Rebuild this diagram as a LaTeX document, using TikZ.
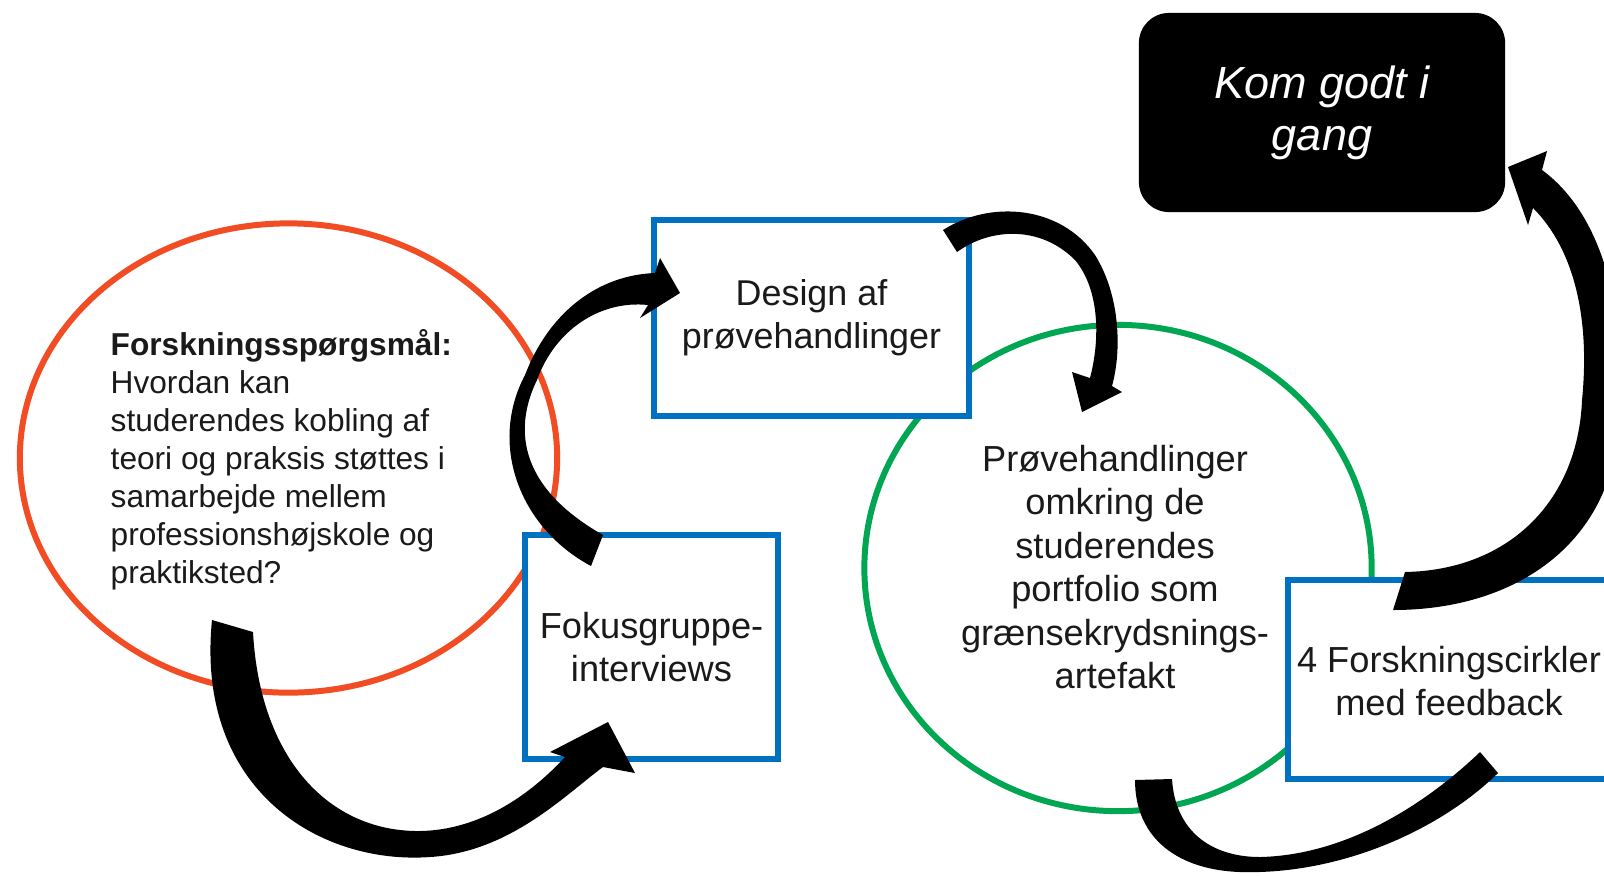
\documentclass[tikz,border=0pt]{standalone}
\usepackage{fontspec}
\setmainfont{Liberation Sans}
\usetikzlibrary{shapes.geometric}
\definecolor{boxblue}{RGB}{0,112,192}
\definecolor{ringred}{RGB}{242,76,36}
\definecolor{ringgreen}{RGB}{0,166,81}
\definecolor{textc}{RGB}{26,26,26}
\begin{document}
\begin{tikzpicture}[x=0.01cm,y=-0.01cm,
  bluebox/.style={draw=boxblue,line width=1.85pt,fill=white,inner sep=0pt,outer sep=0pt},
  ring/.style={ellipse,line width=1.7pt,inner sep=0pt,outer sep=0pt},
  lbl/.style={align=center,text=textc,inner sep=0pt},
  blockarrow/.style={fill=black,draw=none}]
\clip (0,0) rectangle (1604,875);
\fill[white] (0,0) rectangle (1604,875);
% rings
\node[ring,draw=ringred,minimum width=5.37cm,minimum height=4.69cm] (rq) at (288.5,458) {};
\node[ring,draw=ringgreen,minimum width=5.07cm,minimum height=4.86cm] (pg) at (1118,568) {};
% boxes
\node[bluebox,minimum width=3.15cm,minimum height=1.96cm,lbl,font=\fontsize{10.2}{12.2}\selectfont] (design) at (811.5,318) {Design af\\prøvehandlinger};
\node[bluebox,minimum width=2.53cm,minimum height=2.24cm,lbl,font=\fontsize{10.3}{12.4}\selectfont] (fokus) at (651.5,647) {Fokusgruppe-\\interviews};
\node[bluebox,minimum width=3.52cm,minimum height=1.99cm] (fc) at (1464,679.5) {};
\node[lbl,font=\fontsize{10.3}{12.2}\selectfont] (fctext) at (1449,681) {4 Forskningscirkler\\med feedback};
\node[fill=black,rounded corners=0.3cm,minimum width=3.66cm,minimum height=1.99cm,inner sep=0pt,text=white,align=center,font=\fontsize{12.8}{14.8}\selectfont\itshape] (kom) at (1322,112.5) {Kom godt i\\gang};
% texts in rings
\node[lbl,align=left,anchor=west,font=\fontsize{9}{10.8}\selectfont] (rqtext) at (110,460) {\textbf{Forskningsspørgsmål:}\\Hvordan kan\\studerendes kobling af\\teori og praksis støttes i\\samarbejde mellem\\professionshøjskole og\\praktiksted?};
\node[lbl,font=\fontsize{10.3}{12.35}\selectfont] (pgtext) at (1115,567) {Prøvehandlinger\\omkring de\\studerendes\\portfolio som\\grænsekrydsnings-\\artefakt};
% block arrows
\fill[blockarrow] (212,620) .. controls (195,790) and (320,865) .. (430,857) .. controls (510,852) and (565,795) .. (603,767) -- (635,773) -- (608,722) -- (550,752) -- (565,757) .. controls (530,795) and (480,830) .. (420,831) .. controls (330,832) and (260,760) .. (253,632) -- cycle;
\fill[blockarrow] (591,566) .. controls (520,528) and (488,445) .. (525,375) .. controls (550,310) and (600,275) .. (655,273) -- (660,258) -- (680,293) -- (640,318) -- (648,305) .. controls (600,300) and (555,330) .. (537,380) .. controls (515,425) and (515,485) .. (603,535) -- cycle;
\fill[blockarrow] (943,230) .. controls (990,200) and (1060,205) .. (1095,255) .. controls (1120,295) and (1122,350) .. (1112,386) -- (1122,392) -- (1082,412) -- (1072,372) -- (1090,378) .. controls (1100,340) and (1100,290) .. (1075,260) .. controls (1040,225) and (990,228) .. (957,252) -- cycle;
\fill[blockarrow] (1135,780) -- (1172,779) .. controls (1175,830) and (1210,857) .. (1260,857) .. controls (1350,855) and (1430,800) .. (1480,752) -- (1498,773) .. controls (1440,830) and (1340,875) .. (1240,872) .. controls (1180,870) and (1135,840) .. (1135,780) -- cycle;
\fill[blockarrow] (1393,610) .. controls (1520,610) and (1610,540) .. (1618,430) .. controls (1628,330) and (1610,220) .. (1542,170) -- (1547,151) -- (1508,167) -- (1528,225) -- (1533,208) .. controls (1575,250) and (1590,320) .. (1582,400) .. controls (1578,500) and (1510,570) .. (1405,572) -- cycle;
\end{tikzpicture}
\end{document}
